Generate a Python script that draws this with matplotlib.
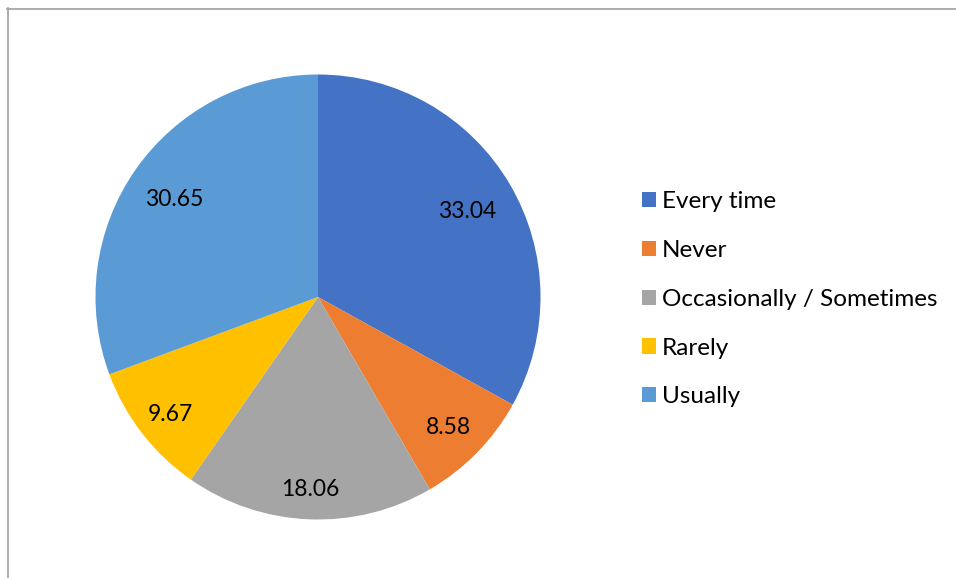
import numpy as np
import matplotlib
matplotlib.use('Agg')
import matplotlib.pyplot as plt
from matplotlib.patches import Patch
from matplotlib.lines import Line2D

# Pie data
categories = ['Every time', 'Never', 'Occasionally / Sometimes', 'Rarely', 'Usually']
values = [33.04, 8.58, 18.06, 9.67, 30.65]
colors = ['#4472C4', '#ED7D31', '#A5A5A5', '#FFC000', '#5B9BD5']

# how far out each value label sits (fraction of the radius)
label_dist = [0.78, 0.82, 0.855, 0.84, 0.79]

plt.rcParams['font.family'] = ['Lato', 'DejaVu Sans']

W, H = 956, 578
fig = plt.figure(figsize=(W / 100, H / 100), dpi=100)

# pie centre and radius in pixels
cx, cy, r = 318, 297, 222.5
ax = fig.add_axes([(cx - r) / W, 1 - (cy + r) / H, 2 * r / W, 2 * r / H])
wedges, _, autotexts = ax.pie(values, colors=colors, startangle=90, counterclock=False,
                              radius=1, autopct='%.2f',
                              textprops={'fontsize': 16.5, 'color': 'black'},
                              wedgeprops={'linewidth': 0})
for w, t, d in zip(wedges, autotexts, label_dist):
    mid = np.deg2rad((w.theta1 + w.theta2) / 2)
    t.set_position((d * np.cos(mid), d * np.sin(mid) - 0.012))
ax.set_xlim(-1, 1)
ax.set_ylim(-1, 1)
ax.set_aspect('equal')
ax.axis('off')

# legend
handles = [Patch(facecolor=c, edgecolor='none') for c in colors]
fig.legend(handles, categories, loc='upper left',
           bbox_to_anchor=(641.7 / W, 1 - 191.5 / H), frameon=False,
           fontsize=17.5, handlelength=0.58, handleheight=0.58,
           handletextpad=0.25, labelspacing=1.14, borderpad=0, borderaxespad=0)

# chart border (left and top edges only visible)
fig.add_artist(Line2D([7.5 / W, 7.5 / W], [0, 1 - 8 / H], color='#A0A0A0', lw=1.2))
fig.add_artist(Line2D([7 / W, 1], [1 - 8.5 / H, 1 - 8.5 / H], color='#A0A0A0', lw=1.2))

fig.savefig('out.png', dpi=100)
